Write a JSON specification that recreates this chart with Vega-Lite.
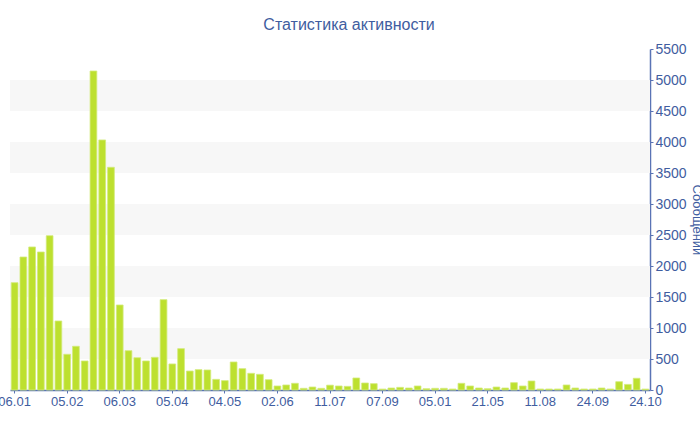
{
  "$schema": "https://vega.github.io/schema/vega-lite/v6.json",
  "width": 640,
  "height": 341,
  "autosize": {"type": "none"},
  "padding": {"left": 10, "top": 49, "right": 50, "bottom": 40},
  "background": "white",
  "title": {
    "text": "Статистика активности",
    "font": "Liberation Sans",
    "fontSize": 16,
    "fontWeight": "normal",
    "color": "#3f5da0",
    "anchor": "middle",
    "dx": 19,
    "offset": 9
  },
  "config": {"view": {"stroke": null}},
  "datasets": {
    "bands": [
      {"lo": 500, "hi": 1000},
      {"lo": 1500, "hi": 2000},
      {"lo": 2500, "hi": 3000},
      {"lo": 3500, "hi": 4000},
      {"lo": 4500, "hi": 5000}
    ],
    "bars": [
      {"i": 0, "v": 1731}, {"i": 1, "v": 2145}, {"i": 2, "v": 2307}, {"i": 3, "v": 2226},
      {"i": 4, "v": 2489}, {"i": 5, "v": 1113}, {"i": 6, "v": 576}, {"i": 7, "v": 705},
      {"i": 8, "v": 468}, {"i": 9, "v": 5145}, {"i": 10, "v": 4033}, {"i": 11, "v": 3592},
      {"i": 12, "v": 1371}, {"i": 13, "v": 634}, {"i": 14, "v": 521}, {"i": 15, "v": 468},
      {"i": 16, "v": 527}, {"i": 17, "v": 1457}, {"i": 18, "v": 420}, {"i": 19, "v": 667},
      {"i": 20, "v": 306}, {"i": 21, "v": 328}, {"i": 22, "v": 323}, {"i": 23, "v": 172},
      {"i": 24, "v": 151}, {"i": 25, "v": 452}, {"i": 26, "v": 344}, {"i": 27, "v": 269},
      {"i": 28, "v": 253}, {"i": 29, "v": 166}, {"i": 30, "v": 65}, {"i": 31, "v": 81},
      {"i": 32, "v": 108}, {"i": 33, "v": 27}, {"i": 34, "v": 48}, {"i": 35, "v": 27},
      {"i": 36, "v": 78}, {"i": 37, "v": 65}, {"i": 38, "v": 59}, {"i": 39, "v": 194},
      {"i": 40, "v": 113}, {"i": 41, "v": 102}, {"i": 42, "v": 15}, {"i": 43, "v": 32},
      {"i": 44, "v": 43}, {"i": 45, "v": 32}, {"i": 46, "v": 65}, {"i": 47, "v": 21},
      {"i": 48, "v": 27}, {"i": 49, "v": 27}, {"i": 50, "v": 16}, {"i": 51, "v": 108},
      {"i": 52, "v": 65}, {"i": 53, "v": 32}, {"i": 54, "v": 21}, {"i": 55, "v": 48},
      {"i": 56, "v": 32}, {"i": 57, "v": 118}, {"i": 58, "v": 65}, {"i": 59, "v": 145},
      {"i": 60, "v": 16}, {"i": 61, "v": 16}, {"i": 62, "v": 16}, {"i": 63, "v": 81},
      {"i": 64, "v": 32}, {"i": 65, "v": 16}, {"i": 66, "v": 16}, {"i": 67, "v": 32},
      {"i": 68, "v": 16}, {"i": 69, "v": 134}, {"i": 70, "v": 90}, {"i": 71, "v": 189},
      {"i": 72, "v": 15}
    ]
  },
  "layer": [
    {
      "data": {"name": "bands"},
      "mark": {"type": "rect", "color": "#f7f7f7"},
      "encoding": {
        "y": {
          "field": "lo",
          "type": "quantitative",
          "scale": {"domain": [0, 5500], "nice": false},
          "axis": {
            "orient": "right",
            "title": "Сообщений",
            "titleFont": "Liberation Sans",
            "titleFontSize": 13,
            "titleFontWeight": "normal",
            "titleColor": "#3f5da0",
            "titlePadding": 3,
            "values": [0, 500, 1000, 1500, 2000, 2500, 3000, 3500, 4000, 4500, 5000, 5500],
            "format": "d",
            "labelFont": "Liberation Sans",
            "labelFontSize": 14,
            "labelColor": "#3f5da0",
            "labelPadding": 2,
            "tickSize": 3,
            "tickColor": "#5a73b5",
            "domainColor": "#5a73b5",
            "domainWidth": 1.5,
            "grid": false
          }
        },
        "y2": {"field": "hi"}
      }
    },
    {
      "data": {"name": "bars"},
      "mark": {"type": "bar", "color": "#bde02f", "stroke": "#d3eb7c", "strokeWidth": 0.8},
      "encoding": {
        "x": {
          "field": "i",
          "type": "ordinal",
          "scale": {"paddingInner": 0.23, "paddingOuter": 0.14},
          "axis": {
            "title": null,
            "values": [0, 6, 12, 18, 24, 30, 36, 42, 48, 54, 60, 66, 72],
            "labelExpr": "['06.01','05.02','06.03','05.04','04.05','02.06','11.07','07.09','05.01','21.05','11.08','24.09','24.10'][datum.value / 6]",
            "labelAngle": 0,
            "labelFont": "Liberation Sans",
            "labelFontSize": 13,
            "labelColor": "#3f5da0",
            "labelPadding": 2,
            "labelOverlap": false,
            "tickSize": 3,
            "tickColor": "#5a73b5",
            "domainColor": "#5a73b5",
            "domainWidth": 1.5,
            "grid": false
          }
        },
        "y": {
          "field": "v",
          "type": "quantitative",
          "scale": {"domain": [0, 5500], "nice": false},
          "axis": {
            "orient": "right",
            "title": "Сообщений",
            "titleFont": "Liberation Sans",
            "titleFontSize": 13,
            "titleFontWeight": "normal",
            "titleColor": "#3f5da0",
            "titlePadding": 3,
            "values": [0, 500, 1000, 1500, 2000, 2500, 3000, 3500, 4000, 4500, 5000, 5500],
            "format": "d",
            "labelFont": "Liberation Sans",
            "labelFontSize": 14,
            "labelColor": "#3f5da0",
            "labelPadding": 2,
            "tickSize": 3,
            "tickColor": "#5a73b5",
            "domainColor": "#5a73b5",
            "domainWidth": 1.5,
            "grid": false
          }
        }
      }
    }
  ]
}
